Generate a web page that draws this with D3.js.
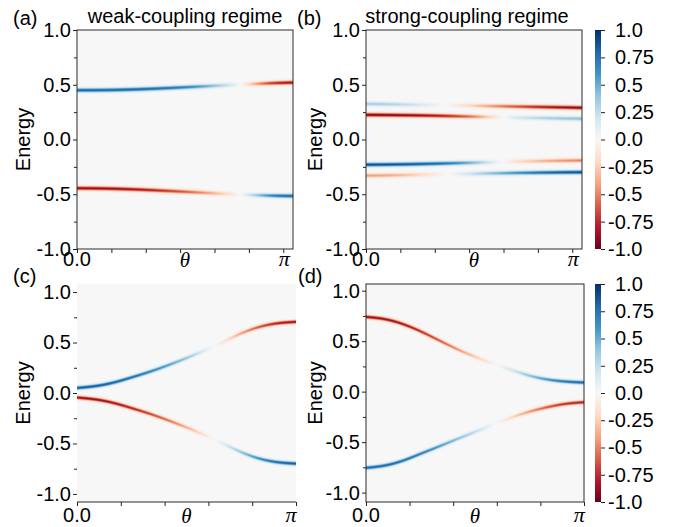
<!DOCTYPE html>
<html>
<head>
<meta charset="utf-8">
<script src="https://cdn.jsdelivr.net/npm/d3@7"></script>
<style>
  body { margin: 0; background: #fff; }
  svg text { font-family: "Liberation Sans", Arial, sans-serif; fill: #000; }
  .math { font-family: "Liberation Serif", "DejaVu Serif", serif; font-style: italic; }
</style>
<title>Spectral weight vs theta</title>
</head>
<body>
<svg id="fig" width="673" height="527"></svg>
<script>
// theta samples: 0 .. pi in steps of pi/12
var thetas = d3.range(13).map(function(i){ return i * Math.PI / 12; });

// (a) weak coupling
var aUpperE = [0.450, 0.450, 0.452, 0.456, 0.462, 0.469, 0.477, 0.485, 0.493, 0.501, 0.509, 0.516, 0.520];
var aUpperW = [0.80, 0.80, 0.80, 0.80, 0.78, 0.75, 0.70, 0.56, 0.32, 0.08, -0.45, -0.80, -0.85];
var aLowerE = [-0.445, -0.446, -0.449, -0.454, -0.461, -0.469, -0.477, -0.486, -0.494, -0.502, -0.509, -0.514, -0.516];
var aLowerW = [-0.88, -0.88, -0.87, -0.85, -0.80, -0.72, -0.62, -0.47, -0.27, -0.05, 0.40, 0.75, 0.80];

// (b) strong coupling
var bBand1E = [0.325, 0.323, 0.320, 0.317, 0.314, 0.311, 0.308, 0.305, 0.302, 0.299, 0.296, 0.293, 0.290];
var bBand1W = [0.35, 0.33, 0.28, 0.18, 0.05, -0.08, -0.26, -0.44, -0.60, -0.72, -0.82, -0.88, -0.90];
var bBand2E = [0.225, 0.224, 0.222, 0.220, 0.217, 0.213, 0.209, 0.205, 0.201, 0.198, 0.195, 0.192, 0.190];
var bBand2W = [-0.92, -0.92, -0.90, -0.87, -0.82, -0.72, -0.52, -0.18, 0.12, 0.24, 0.32, 0.38, 0.42];
var bBand3E = [-0.230, -0.229, -0.227, -0.224, -0.220, -0.216, -0.212, -0.207, -0.203, -0.199, -0.196, -0.193, -0.192];
var bBand3W = [0.88, 0.88, 0.86, 0.83, 0.78, 0.66, 0.45, 0.15, -0.12, -0.26, -0.37, -0.45, -0.50];
var bBand4E = [-0.330, -0.328, -0.325, -0.322, -0.318, -0.315, -0.312, -0.309, -0.306, -0.304, -0.302, -0.300, -0.299];
var bBand4W = [-0.42, -0.40, -0.33, -0.22, -0.07, 0.07, 0.26, 0.43, 0.57, 0.69, 0.79, 0.85, 0.88];

// (c)
var cUpperE = [0.050, 0.065, 0.100, 0.155, 0.210, 0.275, 0.345, 0.420, 0.505, 0.595, 0.660, 0.695, 0.705];
var cUpperW = [0.85, 0.85, 0.83, 0.78, 0.70, 0.57, 0.42, 0.14, -0.12, -0.42, -0.66, -0.82, -0.87];
var cLowerE = [-0.045, -0.060, -0.095, -0.150, -0.205, -0.270, -0.340, -0.415, -0.500, -0.590, -0.655, -0.690, -0.700];
var cLowerW = [-0.88, -0.88, -0.86, -0.80, -0.70, -0.56, -0.40, -0.14, 0.12, 0.42, 0.66, 0.80, 0.85];

// (d)
var dUpperE = [0.740, 0.725, 0.675, 0.600, 0.510, 0.420, 0.345, 0.275, 0.215, 0.155, 0.117, 0.098, 0.090];
var dUpperW = [-0.88, -0.88, -0.85, -0.78, -0.65, -0.48, -0.28, -0.05, 0.18, 0.42, 0.62, 0.76, 0.80];
var dLowerE = [-0.755, -0.738, -0.690, -0.615, -0.545, -0.470, -0.400, -0.325, -0.255, -0.195, -0.152, -0.117, -0.105];
var dLowerW = [0.80, 0.80, 0.78, 0.72, 0.60, 0.45, 0.27, 0.04, -0.20, -0.45, -0.65, -0.76, -0.80];

var yMajor = [-1, -0.5, 0, 0.5, 1];
var yMinor = [-0.75, -0.25, 0.25, 0.75];
var xTicksTop = [0, 0.5, 1, 1.5, 2, 2.5, 3];
var xTicksBottom = d3.range(6).map(function(i){ return i * Math.PI / 5; });
var cbarTicks = [1, 0.75, 0.5, 0.25, 0, -0.25, -0.5, -0.75, -1];

var panels = [
  {tag: "(a)", title: "weak-coupling regime", x0: 77, x1: 293, y0: 30, y1: 249, ylim: [-1, 1],
   bands: [[aUpperE, aUpperW], [aLowerE, aLowerW]], top: true, frame: true, ylab: 29.5, tagX: 13, titleX: 185},
  {tag: "(b)", title: "strong-coupling regime", x0: 366, x1: 582, y0: 30, y1: 249, ylim: [-1, 1],
   bands: [[bBand1E, bBand1W], [bBand2E, bBand2W], [bBand3E, bBand3W], [bBand4E, bBand4W]],
   top: true, frame: true, ylab: 322, tagX: 297, titleX: 467, cbar: true},
  {tag: "(c)", x0: 77, x1: 296, y0: 284, y1: 502, ylim: [-1.08, 1.08],
   bands: [[cUpperE, cUpperW], [cLowerE, cLowerW]], top: false, frame: false, ylab: 29.5, tagX: 13},
  {tag: "(d)", x0: 366, x1: 584, y0: 284, y1: 502, ylim: [-1.093, 1.066],
   bands: [[dUpperE, dUpperW], [dLowerE, dLowerW]], top: false, frame: true, ylab: 322, tagX: 298, cbar: true}
];

var svg = d3.select("#fig");
var sigma = 0.013;
// matplotlib-style RdBu: piecewise linear through the 11 scheme colours
var rdbu = d3.piecewise(d3.interpolateRgb, d3.schemeRdBu[11]);
var lut = d3.range(1001).map(function(i){ return d3.rgb(rdbu(i / 1000)); });

function heatmap(p, x, y) {
  var S = 2;
  var W = Math.round(p.x1 - p.x0), H = Math.round(p.y1 - p.y0);
  var canvas = document.createElement("canvas");
  canvas.width = W * S; canvas.height = H * S;
  var ctx = canvas.getContext("2d");
  var img = ctx.createImageData(W * S, H * S);
  var bands = p.bands.map(function(b){
    return {e: d3.interpolateBasis(b[0]), w: d3.interpolateBasis(b[1])};
  });
  for (var i = 0; i < W * S; i++) {
    var t = x.invert(p.x0 + (i + 0.5) / S) / Math.PI;
    var es = bands.map(function(b){ return b.e(t); });
    var ws = bands.map(function(b){ return b.w(t); });
    for (var j = 0; j < H * S; j++) {
      var E = y.invert(p.y0 + (j + 0.5) / S);
      var v = 0;
      for (var k = 0; k < es.length; k++) {
        var d = (E - es[k]) / sigma;
        v += ws[k] * Math.exp(-0.5 * d * d);
      }
      v = Math.max(-1, Math.min(1, v));
      var c = lut[Math.round((v + 1) / 2 * 1000)];
      var o = (j * W * S + i) * 4;
      img.data[o] = c.r; img.data[o + 1] = c.g; img.data[o + 2] = c.b; img.data[o + 3] = 255;
    }
  }
  ctx.putImageData(img, 0, 0);
  svg.append("image")
    .attr("x", p.x0).attr("y", p.y0)
    .attr("width", W).attr("height", H)
    .attr("preserveAspectRatio", "none")
    .attr("href", canvas.toDataURL());
}

function fmt(d) { return d.toFixed(1); }

function styleAxis(g) {
  g.select(".domain").remove();
  g.selectAll("line").attr("stroke", "#222");
  g.selectAll("text").attr("font-size", 20).attr("fill", "#000")
    .style("font-family", '"Liberation Sans", Arial, sans-serif');
}

panels.forEach(function(p) {
  var x = d3.scaleLinear().domain([0, Math.PI]).range([p.x0, p.x1]);
  var y = d3.scaleLinear().domain(p.ylim).range([p.y1, p.y0]);
  heatmap(p, x, y);

  svg.append("g").attr("transform", "translate(" + p.x0 + ",0)")
    .call(d3.axisLeft(y).tickValues(yMajor).tickFormat(fmt).tickSize(4).tickPadding(2))
    .call(styleAxis);
  svg.append("g").attr("transform", "translate(" + p.x0 + ",0)")
    .call(d3.axisLeft(y).tickValues(yMinor).tickFormat("").tickSize(3))
    .call(styleAxis);
  svg.append("g").attr("transform", "translate(0," + p.y1 + ")")
    .call(d3.axisBottom(x).tickValues(p.top ? xTicksTop : xTicksBottom).tickFormat("").tickSize(4))
    .call(styleAxis);

  if (p.frame) {
    svg.append("rect").attr("x", p.x0).attr("y", p.y0)
      .attr("width", p.x1 - p.x0).attr("height", p.y1 - p.y0)
      .attr("fill", "none").attr("stroke", "#2a2a2a").attr("stroke-width", 1);
  } else {
    svg.append("line").attr("x1", p.x0).attr("x2", p.x1)
      .attr("y1", p.y1).attr("y2", p.y1)
      .attr("stroke", "#2a2a2a").attr("stroke-width", 1);
  }

  // x tick labels and theta label
  var base = p.top ? 266 : 522;
  svg.append("text").attr("x", x(0)).attr("y", base).attr("text-anchor", "middle")
    .attr("font-size", 20).text("0.0");
  svg.append("text").attr("class", "math").attr("x", (p.x0 + p.x1) / 2).attr("y", base + 1)
    .attr("text-anchor", "middle").attr("font-size", 21).text("θ");
  svg.append("text").attr("class", "math").attr("x", x(3) + (p.top ? 1 : 5)).attr("y", base)
    .attr("text-anchor", "middle").attr("font-size", 22).text("π");

  svg.append("text")
    .attr("transform", "translate(" + p.ylab + "," + ((p.y0 + p.y1) / 2) + ") rotate(-90)")
    .attr("text-anchor", "middle").attr("font-size", 20).text("Energy");

  svg.append("text").attr("x", p.tagX).attr("y", p.top ? 25 : 283)
    .attr("font-size", 20).text(p.tag);
  if (p.title) {
    svg.append("text").attr("x", p.titleX).attr("y", 23).attr("text-anchor", "middle")
      .attr("font-size", 20).text(p.title);
  }

  if (p.cbar) {
    var id = "grad" + p.tag.replace(/\W/g, "");
    var grad = svg.append("defs").append("linearGradient").attr("id", id)
      .attr("x1", 0).attr("y1", 0).attr("x2", 0).attr("y2", 1);
    d3.range(41).forEach(function(i) {
      grad.append("stop").attr("offset", i / 40).attr("stop-color", rdbu(1 - i / 40));
    });
    var cx0 = 595, cx1 = 601;
    var cy = d3.scaleLinear().domain([-1, 1]).range([p.y1, p.y0]);
    svg.append("rect").attr("x", cx0).attr("y", p.y0)
      .attr("width", cx1 - cx0).attr("height", p.y1 - p.y0)
      .attr("fill", "url(#" + id + ")");
    var ca = svg.append("g").attr("transform", "translate(" + cx1 + ",0)")
      .call(d3.axisRight(cy).tickValues(cbarTicks).tickSize(4).tickPadding(3)
        .tickFormat(function(d){ return d === Math.round(d * 2) / 2 ? d.toFixed(1) : d.toFixed(2); }))
      .call(styleAxis);
    ca.selectAll("text").attr("x", function(d){ return d < 0 ? 7 : 14; });
  }
});
</script>
</body>
</html>
